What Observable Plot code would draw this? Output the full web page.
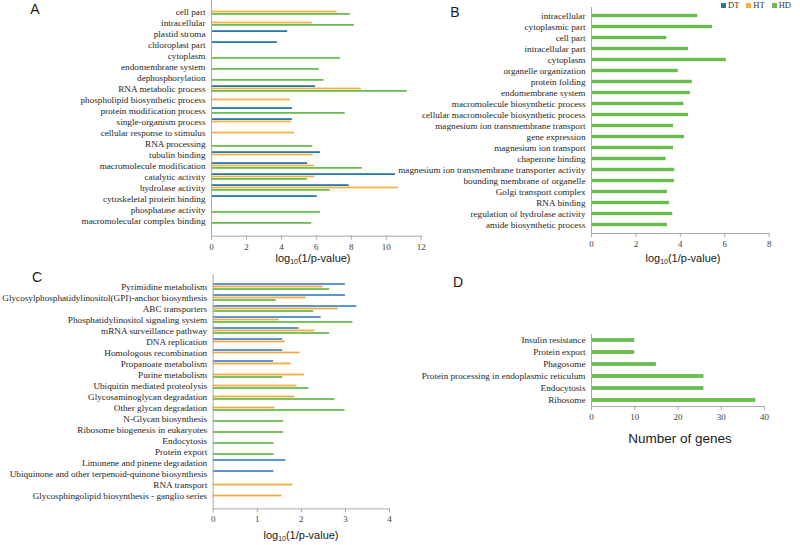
<!DOCTYPE html>
<html>
<head>
<meta charset="utf-8">
<script src="https://cdn.jsdelivr.net/npm/d3@7"></script>
<script src="https://cdn.jsdelivr.net/npm/@observablehq/plot@0.6"></script>
<style>
  html, body { margin: 0; padding: 0; background: #fff; }
  #fig { position: relative; width: 800px; height: 545px; overflow: hidden; background: #fff; }
  .panel { position: absolute; }
  .panel svg { overflow: visible; }
  .lbl { position: absolute; transform: translate(-50%, -50%); white-space: nowrap; color: #1a1a1a; }
  .letter { font-family: "Liberation Sans", Arial, sans-serif; font-size: 14px; }
  .xt { font-family: "Liberation Sans", Arial, sans-serif; font-size: 11px; }
  .xt sub { font-size: 7px; vertical-align: -2px; }
  .legend { position: absolute; left: 721px; top: 0px; font-family: "Liberation Serif", serif; font-size: 8.5px; color: #333; display: flex; gap: 7px; align-items: center; }
  .legend span.sw { display: inline-block; width: 5px; height: 5px; margin-right: 2px; }
</style>
</head>
<body>
<div id="fig"></div>
<script>
// ---------- Panel A ----------
const catsA = ["cell part", "intracellular", "plastid stroma", "chloroplast part", "cytoplasm",
  "endomembrane system", "dephosphorylation", "RNA metabolic process",
  "phospholipid biosynthetic process", "protein modification process", "single-organism process",
  "cellular response to stimulus", "RNA processing", "tubulin binding", "macromolecule modification",
  "catalytic activity", "hydrolase activity", "cytoskeletal protein binding", "phosphatase activity",
  "macromolecular complex binding"];
const dtA = [null, null, 4.36, 3.77, null, null, null, 5.95, null, 4.63, 4.63, null, null, 6.24, 5.50, 10.53, 7.88, 6.05, null, null];
const htA = [7.19, 5.77, null, null, null, null, null, 8.58, 4.51, null, 4.57, 4.76, null, 5.82, 5.90, 5.90, 10.70, null, null, null];
const hdA = [7.95, 8.18, null, null, 7.38, 6.18, 6.44, 11.20, null, 7.65, null, null, 5.80, null, 8.63, 5.50, 6.80, null, 6.24, 5.73];
const ticksA = [0, 2, 4, 6, 8, 10, 12];

// ---------- Panel B ----------
const catsB = ["intracellular", "cytoplasmic part", "cell part", "intracellular part", "cytoplasm",
  "organelle organization", "protein folding", "endomembrane system",
  "macromolecule biosynthetic process", "cellular macromolecule biosynthetic process",
  "magnesium ion transmembrane transport", "gene expression", "magnesium ion transport",
  "chaperone binding", "magnesium ion transmembrane transporter activity",
  "bounding membrane of organelle", "Golgi transport complex", "RNA binding",
  "regulation of hydrolase activity", "amide biosynthetic process"];
const hdB = [4.78, 5.45, 3.39, 4.37, 6.07, 3.91, 4.54, 4.45, 4.16, 4.37, 3.69, 4.19, 3.69, 3.36, 3.75, 3.73, 3.42, 3.51, 3.66, 3.42];
const ticksB = [0, 2, 4, 6, 8];

// ---------- Panel C ----------
const catsC = ["Pyrimidine metabolism", "Glycosylphosphatidylinositol(GPI)-anchor biosynthesis",
  "ABC transporters", "Phosphatidylinositol signaling system", "mRNA surveillance pathway",
  "DNA replication", "Homologous recombination", "Propanoate metabolism", "Purine metabolism",
  "Ubiquitin mediated proteolysis", "Glycosaminoglycan degradation", "Other glycan degradation",
  "N-Glycan biosynthesis", "Ribosome biogenesis in eukaryotes", "Endocytosis", "Protein export",
  "Limonene and pinene degradation", "Ubiquinone and other terpenoid-quinone biosynthesis",
  "RNA transport", "Glycosphingolipid biosynthesis - ganglio series"];
const dtC = [3.00, 3.00, 3.26, 2.45, 1.95, 1.58, 1.58, 1.37, null, null, null, null, null, null, null, null, 1.65, 1.38, null, null];
const htC = [2.49, 2.11, 2.84, 1.50, 2.31, 1.64, 1.97, 1.77, 2.07, 1.90, 1.85, 1.40, null, null, null, null, null, null, 1.81, 1.56];
const hdC = [2.64, 1.43, 2.28, 3.17, 2.64, null, null, null, 1.58, 2.17, 2.76, 2.99, 1.60, 1.60, 1.38, 1.38, null, null, null, null];
const ticksC = [0, 1, 2, 3, 4];

// ---------- Panel D ----------
const catsD = ["Insulin resistance", "Protein export", "Phagosome",
  "Protein processing in endoplasmic reticulum", "Endocytosis", "Ribosome"];
const genesD = [10, 10, 15, 26, 26, 38];
const ticksD = [0, 10, 20, 30, 40];

const seriesNames = ["DT", "HT", "HD"];
const colorsAB = ["#2676a6", "#f5b042", "#68bd4e"];
const colorsC = ["#4d8bcb", "#f2aa45", "#68bd4e"];

const AXIS = "#a9a9a9";
const TEXT = "#262626";
const SERIF = "Liberation Serif, Times New Roman, serif";
const fig = document.getElementById("fig");

function addPanel(el, left, top) {
  const d = document.createElement("div");
  d.className = "panel";
  d.style.left = left + "px";
  d.style.top = top + "px";
  d.appendChild(el);
  fig.appendChild(d);
}
function addText(html, cls, x, y, size) {
  const d = document.createElement("div");
  d.className = "lbl " + cls;
  d.style.left = x + "px";
  d.style.top = y + "px";
  if (size) d.style.fontSize = size;
  d.innerHTML = html;
  fig.appendChild(d);
}

function axes(ticks, fontSize) {
  return [
    Plot.ruleX([0], {stroke: AXIS}),
    Plot.frame({anchor: "bottom", stroke: AXIS}),
    Plot.axisX({ticks, tickFormat: d => String(d), tickSize: 4, tickPadding: 3, label: null,
      stroke: AXIS, fill: "#404040", fontFamily: SERIF, fontSize: "9px"}),
    Plot.axisY({tickSize: 0, tickPadding: 6, label: null, fill: TEXT, fontFamily: SERIF, fontSize})
  ];
}

// grouped horizontal bars (3 series per category, fixed slots)
function grouped({cats, series, colors, xmax, ticks, width, height, mL, mR, mT, mB, yRange, barH, fontSize}) {
  const rows = [];
  series.forEach((vals, si) => vals.forEach((v, i) => {
    if (v != null) rows.push({cat: cats[i], series: seriesNames[si], value: v});
  }));
  const r = yRange || [mT, height - mB];
  const band = (r[1] - r[0]) / cats.length;
  const inset = (band - barH) / 2;
  const bars = seriesNames.map((s, si) => Plot.barX(rows.filter(d => d.series === s), {
    x: "value", y: "cat", fill: "series", dy: (si - 1) * barH, insetTop: inset, insetBottom: inset
  }));
  return Plot.plot({
    width, height, marginLeft: mL, marginRight: mR, marginTop: mT, marginBottom: mB,
    style: {background: "transparent", fontFamily: SERIF, fontSize, color: TEXT},
    x: {domain: [0, xmax], axis: null},
    y: {domain: cats, padding: 0, axis: null, range: r},
    color: {domain: seriesNames, range: colors},
    marks: [...bars, ...axes(ticks, fontSize)]
  });
}

function single({cats, vals, color, xmax, ticks, width, height, mL, mR, mT, mB, barH, fontSize}) {
  const rows = cats.map((c, i) => ({cat: c, value: vals[i]}));
  const band = (height - mT - mB) / cats.length;
  const inset = (band - barH) / 2;
  return Plot.plot({
    width, height, marginLeft: mL, marginRight: mR, marginTop: mT, marginBottom: mB,
    style: {background: "transparent", fontFamily: SERIF, fontSize, color: TEXT},
    x: {domain: [0, xmax], axis: null},
    y: {domain: cats, padding: 0, axis: null},
    marks: [
      Plot.barX(rows, {x: "value", y: "cat", fill: color, insetTop: inset, insetBottom: inset}),
      ...axes(ticks, fontSize)
    ]
  });
}

// Panel A: plot area x 211..420.7, y 0..235.7 (categories over 0..232.8)
addPanel(grouped({cats: catsA, series: [dtA, htA, hdA], colors: colorsAB, xmax: 12, ticks: ticksA,
  width: 430, height: 265, mL: 211, mR: 430 - 420.7, mT: 0, mB: 265 - 235.7, yRange: [0, 232.8],
  barH: 2.4, fontSize: "9.2px"}), 0, 0);

// Panel B: plot area x 591..768.7, y 7..233
addPanel(single({cats: catsB, vals: hdB, color: colorsAB[2], xmax: 8, ticks: ticksB,
  width: 385, height: 265, mL: 591 - 415, mR: 385 - (768.7 - 415), mT: 7, mB: 265 - 233, barH: 3.7, fontSize: "9.2px"}), 415, 0);

// Panel C: plot area x 212.7..389, y 274.2..508.4
addPanel(grouped({cats: catsC, series: [dtC, htC, hdC], colors: colorsC, xmax: 4, ticks: ticksC,
  width: 415, height: 280, mL: 212.7, mR: 415 - 389, mT: 274.2 - 265, mB: 280 - (508.4 - 265), barH: 2.5, fontSize: "9.2px"}), 0, 265);

// Panel D: plot area x 591..764, y 334..406
addPanel(single({cats: catsD, vals: genesD, color: colorsAB[2], xmax: 40, ticks: ticksD,
  width: 385, height: 280, mL: 591 - 415, mR: 385 - (764 - 415), mT: 334 - 265, mB: 280 - (406 - 265), barH: 3.8, fontSize: "9.2px"}), 415, 265);

// Panel letters
addText("A", "letter", 35, 9);
addText("B", "letter", 455, 12);
addText("C", "letter", 37, 277);
addText("D", "letter", 458, 282);

// Axis titles
const ptitle = "log<sub>10</sub>(1/p-value)";
addText(ptitle, "xt", 313, 258);
addText(ptitle, "xt", 683, 258);
addText(ptitle, "xt", 301, 535);
addText("Number of genes", "xt", 680, 438, "13.5px");

// Legend
const lg = document.createElement("div");
lg.className = "legend";
seriesNames.forEach((s, i) => {
  const item = document.createElement("span");
  item.innerHTML = `<span class="sw" style="background:${colorsAB[i]}"></span>${s}`;
  lg.appendChild(item);
});
fig.appendChild(lg);
</script>
</body>
</html>
